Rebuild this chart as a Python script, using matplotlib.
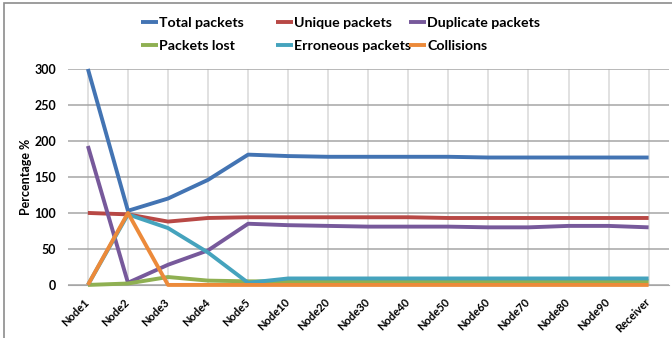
import matplotlib
matplotlib.use("Agg")
import matplotlib.pyplot as plt
from matplotlib.patches import Rectangle
from matplotlib.transforms import ScaledTranslation
import numpy as np

nodes = ["Node1", "Node2", "Node3", "Node4", "Node5", "Node10", "Node20", "Node30",
         "Node40", "Node50", "Node60", "Node70", "Node80", "Node90", "Receiver"]

total_packets = [300, 103, 120, 146, 181, 179, 178, 178, 178, 178, 177, 177, 177, 177, 177]
unique_packets = [100, 98, 88, 93, 94, 94, 94, 94, 94, 93, 93, 93, 93, 93, 93]
duplicate_packets = [193, 3, 28, 48, 85, 83, 82, 81, 81, 81, 80, 80, 82, 82, 80]
packets_lost = [0, 2, 11, 6, 5, 5, 5, 5, 5, 5, 5, 5, 5, 5, 5]
erroneous_packets = [0, 98, 79, 45, 3, 9, 9, 9, 9, 9, 9, 9, 9, 9, 9]
collisions = [0, 100, 0, 0, 0, 0, 0, 0, 0, 0, 0, 0, 0, 0, 0]

series = [
    ("Total packets", total_packets, "#4374B3"),
    ("Unique packets", unique_packets, "#B84845"),
    ("Duplicate packets", duplicate_packets, "#77599B"),
    ("Packets lost", packets_lost, "#8FB052"),
    ("Erroneous packets", erroneous_packets, "#45A3BD"),
    ("Collisions", collisions, "#EC8A3A"),
]

plt.rcParams['font.family'] = ['Lato', 'DejaVu Sans']

fig = plt.figure(figsize=(6.72, 3.38), dpi=100)
ax = fig.add_axes([0.101, 0.157, 0.894, 0.639])

# outer chart frame
fig.patches.append(Rectangle((4 / 672, -0.05), 1.1, 1 - 3 / 338 + 0.05,
                             transform=fig.transFigure, fill=False,
                             edgecolor="#8C8C8C", linewidth=1.2))

x = np.arange(len(nodes))
lines = {}
for name, vals, col in series:
    ln, = ax.plot(x, vals, color=col, linewidth=2.8, label=name, clip_on=False,
                  solid_capstyle="butt", zorder=3)
    lines[name] = ln

ax.set_xlim(-0.5, len(nodes) - 0.5)
ax.set_ylim(0, 300)
ax.set_yticks(range(0, 301, 50))
ax.set_xticks(x)
ax.set_xticklabels(nodes, rotation=45, ha="right", va="center",
                   rotation_mode="anchor", fontsize=8, fontweight="bold")
shift = ScaledTranslation(4 / 100, 0, fig.dpi_scale_trans)
for lab in ax.get_xticklabels():
    lab.set_transform(lab.get_transform() + shift)
for lab in ax.get_yticklabels():
    lab.set_fontsize(9)
    lab.set_fontweight("bold")
ax.tick_params(length=0)
ax.tick_params(axis="y", pad=8.5)
ax.tick_params(axis="x", pad=11)

ax.grid(axis="y", color="#A6A6A6", linewidth=1.1)
ax.grid(axis="x", color="#D9D9D9", linewidth=1.1)
ax.set_axisbelow(True)
for s in ["top", "right", "left"]:
    ax.spines[s].set_visible(False)
ax.spines["bottom"].set_color("#A6A6A6")

ax.set_ylabel("Percentage %", fontsize=9, fontweight="bold", labelpad=2)

# legend: three equal-width columns, two rows
columns = [("Total packets", "Packets lost"),
           ("Unique packets", "Erroneous packets"),
           ("Duplicate packets", "Collisions")]
col_x = [141, 276, 409]
for names, cx in zip(columns, col_x):
    fig.legend([lines[n] for n in names], names, loc="upper left",
               bbox_to_anchor=(cx / 672, 1 - 17 / 338), frameon=False,
               prop={"size": 10.2, "weight": "bold"}, handlelength=1.2,
               handletextpad=0.08, labelspacing=0.8, borderpad=0,
               borderaxespad=0)

fig.savefig("out.png", dpi=100)
